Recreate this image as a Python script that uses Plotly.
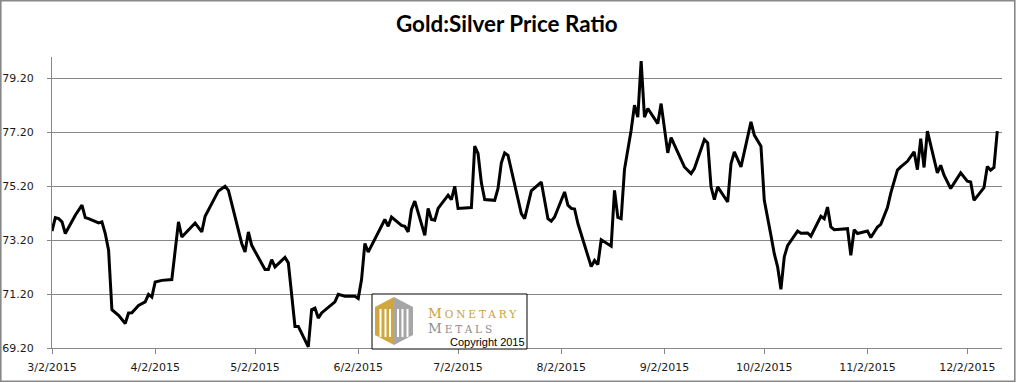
import plotly.graph_objects as go

# ---- data ----
dates = [
    "2015-03-02", "2015-03-03", "2015-03-04", "2015-03-05", "2015-03-06", "2015-03-09",
    "2015-03-11", "2015-03-12", "2015-03-13", "2015-03-16", "2015-03-17", "2015-03-18",
    "2015-03-19", "2015-03-20", "2015-03-22", "2015-03-24", "2015-03-25", "2015-03-26",
    "2015-03-28", "2015-03-29", "2015-03-30", "2015-03-31", "2015-04-01", "2015-04-02",
    "2015-04-04", "2015-04-07", "2015-04-09", "2015-04-10", "2015-04-14", "2015-04-16",
    "2015-04-17", "2015-04-21", "2015-04-22", "2015-04-23", "2015-04-24", "2015-04-27",
    "2015-04-28", "2015-04-29", "2015-04-30", "2015-05-01", "2015-05-05", "2015-05-06",
    "2015-05-07", "2015-05-08", "2015-05-11", "2015-05-12", "2015-05-14", "2015-05-15",
    "2015-05-18", "2015-05-19", "2015-05-20", "2015-05-21", "2015-05-22", "2015-05-26",
    "2015-05-27", "2015-05-29", "2015-06-01", "2015-06-02", "2015-06-03", "2015-06-04",
    "2015-06-05", "2015-06-10", "2015-06-11", "2015-06-12", "2015-06-15", "2015-06-16",
    "2015-06-17", "2015-06-18", "2015-06-19", "2015-06-22", "2015-06-23", "2015-06-24",
    "2015-06-25", "2015-06-26", "2015-06-29", "2015-06-30", "2015-07-01", "2015-07-02",
    "2015-07-06", "2015-07-07", "2015-07-08", "2015-07-09", "2015-07-10", "2015-07-13",
    "2015-07-14", "2015-07-15", "2015-07-16", "2015-07-17", "2015-07-21", "2015-07-22",
    "2015-07-24", "2015-07-27", "2015-07-29", "2015-07-30", "2015-07-31", "2015-08-03",
    "2015-08-04", "2015-08-05", "2015-08-06", "2015-08-07", "2015-08-11", "2015-08-12",
    "2015-08-13", "2015-08-14", "2015-08-17", "2015-08-18", "2015-08-19", "2015-08-20",
    "2015-08-21", "2015-08-23", "2015-08-24", "2015-08-25", "2015-08-26", "2015-08-27",
    "2015-08-28", "2015-08-31", "2015-09-01", "2015-09-03", "2015-09-04", "2015-09-08",
    "2015-09-10", "2015-09-11", "2015-09-14", "2015-09-15", "2015-09-16", "2015-09-17",
    "2015-09-18", "2015-09-21", "2015-09-22", "2015-09-23", "2015-09-25", "2015-09-28",
    "2015-09-29", "2015-10-01", "2015-10-02", "2015-10-04", "2015-10-05", "2015-10-06",
    "2015-10-07", "2015-10-08", "2015-10-09", "2015-10-12", "2015-10-13", "2015-10-15",
    "2015-10-16", "2015-10-19", "2015-10-20", "2015-10-21", "2015-10-22", "2015-10-23",
    "2015-10-27", "2015-10-28", "2015-10-29", "2015-10-30", "2015-11-02", "2015-11-03",
    "2015-11-05", "2015-11-06", "2015-11-08", "2015-11-09", "2015-11-11", "2015-11-12",
    "2015-11-14", "2015-11-16", "2015-11-17", "2015-11-18", "2015-11-19", "2015-11-20",
    "2015-11-23", "2015-11-24", "2015-11-25", "2015-11-27", "2015-11-30", "2015-12-02",
    "2015-12-03", "2015-12-04", "2015-12-07", "2015-12-08", "2015-12-09", "2015-12-10",
    "2015-12-11",
]
ratio = [
    73.54, 74.04, 74.00, 73.88, 73.45, 74.13,
    74.50, 74.04, 74.00, 73.84, 73.88, 73.45,
    72.83, 70.62, 70.41, 70.11, 70.50, 70.51,
    70.78, 70.85, 70.91, 71.19, 71.09, 71.65,
    71.71, 71.74, 73.88, 73.32, 73.84, 73.51,
    74.09, 75.03, 75.12, 75.20, 75.05, 73.57,
    73.08, 72.76, 73.51, 73.01, 72.11, 72.11,
    72.48, 72.21, 72.56, 72.36, 70.00, 70.00,
    69.24, 70.62, 70.68, 70.31, 70.50, 70.91,
    71.19, 71.12, 71.12, 71.04, 71.74, 73.08,
    72.76, 73.97, 73.72, 74.06, 73.75, 73.72,
    73.51, 74.34, 74.65, 73.38, 74.38, 73.97,
    73.94, 74.38, 74.87, 74.71, 75.20, 74.38,
    74.41, 76.69, 76.42, 75.33, 74.71, 74.68,
    75.12, 76.07, 76.44, 76.35, 74.19, 74.00,
    75.03, 75.36, 74.00, 73.91, 74.06, 74.99,
    74.50, 74.38, 74.36, 73.82, 72.22, 72.45,
    72.30, 73.22, 72.98, 75.05, 74.05, 74.00,
    75.83, 77.28, 78.21, 77.77, 79.85, 77.77,
    78.09, 77.53, 78.27, 76.44, 77.01, 75.92,
    75.67, 75.86, 76.94, 76.81, 75.18, 74.71,
    75.18, 74.62, 76.04, 76.48, 75.92, 77.59,
    77.10, 76.69, 74.68, 73.38, 72.70, 72.21,
    71.38, 72.58, 73.00, 73.54, 73.46, 73.47,
    73.35, 74.09, 74.00, 74.43, 73.69, 73.59,
    73.63, 72.64, 73.59, 73.45, 73.54, 73.30,
    73.69, 73.79, 74.41, 74.95, 75.80, 75.92,
    76.13, 76.48, 75.82, 76.97, 75.90, 77.25,
    75.70, 75.98, 75.61, 75.12, 75.70, 75.39,
    75.36, 74.68, 75.15, 75.94, 75.80, 75.90,
    77.25,
]
x_tick_dates = ["2015-03-02", "2015-04-02", "2015-05-02", "2015-06-02", "2015-07-02",
                "2015-08-02", "2015-09-02", "2015-10-02", "2015-11-02", "2015-12-02"]
x_tick_labels = ["3/2/2015", "4/2/2015", "5/2/2015", "6/2/2015", "7/2/2015",
                 "8/2/2015", "9/2/2015", "10/2/2015", "11/2/2015", "12/2/2015"]
y_tick_values = [69.2, 71.2, 73.2, 75.2, 77.2, 79.2]
y_tick_labels = ["69.20", "71.20", "73.20", "75.20", "77.20", "79.20"]

title_text = "Gold:Silver Price Ratio"

# ---- layout geometry (pixels) ----
W, H = 1016, 383
L, R, T, B = 52, 14, 57, 35
PW, PH = W - L - R, H - T - B
GRID = "#878787"


def px(x):
    return (x - L) / PW


def py(y):
    return (H - B - y) / PH


fig = go.Figure()
fig.add_trace(go.Scatter(
    x=dates, y=ratio, mode="lines",
    line=dict(color="#000000", width=3),
    hoverinfo="x+y", showlegend=False,
))

shapes = []
# outer chart border
shapes.append(dict(type="rect", xref="paper", yref="paper",
                   x0=px(0.8), x1=px(1014.8), y0=py(381.2), y1=py(0.8),
                   line=dict(color="#888888", width=1.6), fillcolor="rgba(0,0,0,0)",
                   layer="above"))

# ---- Monetary Metals logo box ----
bx0, bx1, by0, by1 = 372, 527, 294, 349
shapes.append(dict(type="rect", xref="paper", yref="paper",
                   x0=px(bx0), x1=px(bx1), y0=py(by1), y1=py(by0),
                   line=dict(color="#000000", width=1), fillcolor="#ffffff",
                   layer="above"))


def path(points):
    return "M " + " L ".join(f"{px(a):.5f},{py(b):.5f}" for a, b in points) + " Z"


cx, top, bot = 394, 297, 345
lx, rx = 375, 413
gold = "#CFA73D"
grey = "#A6A6A6"
shapes.append(dict(type="path", xref="paper", yref="paper", layer="above",
                   path=path([(cx, top), (cx, bot), (lx, bot - 10), (lx, top + 10)]),
                   fillcolor=gold, line=dict(width=0)))
shapes.append(dict(type="path", xref="paper", yref="paper", layer="above",
                   path=path([(cx, top), (rx, top + 10), (rx, bot - 10), (cx, bot)]),
                   fillcolor=grey, line=dict(width=0)))
stripes = [(379.5, 381.5), (384.5, 386.5), (389, 391), (397, 399), (401.5, 403.5), (406.5, 408.5)]
for (a, b) in stripes:
    shapes.append(dict(type="path", xref="paper", yref="paper", layer="above",
                       path=path([(a, top + 12), (b, top + 12), (b, bot - 8), (a, bot - 8)]),
                       fillcolor="#ffffff", line=dict(width=0)))

line1 = '<span style="letter-spacing:2.9px"><span style="font-size:13.5px">M</span>ONETARY</span>'
line2 = '<span style="letter-spacing:2.9px"><span style="font-size:13.5px">M</span>ETALS</span>'

annotations = [
    dict(text="<b>" + title_text + "</b>", xref="paper", yref="paper",
         x=px(507), y=py(24), showarrow=False, xanchor="center", yanchor="middle",
         font=dict(family="Lato, Open Sans, sans-serif", size=22.4, color="#000000")),
    dict(text=line1, xref="paper", yref="paper", align="left",
         x=px(427), y=py(312.5), showarrow=False, xanchor="left", yanchor="middle",
         borderpad=0,
         font=dict(family="DejaVu Serif, Liberation Serif, serif", size=10.5, color="#C9A23A")),
    dict(text=line2, xref="paper", yref="paper", align="left",
         x=px(427), y=py(327.5), showarrow=False, xanchor="left", yanchor="middle",
         borderpad=0,
         font=dict(family="DejaVu Serif, Liberation Serif, serif", size=10.5, color="#8E8E8E")),
    dict(text="Copyright 2015", xref="paper", yref="paper",
         x=px(487), y=py(341.5), showarrow=False, xanchor="center", yanchor="middle",
         borderpad=0,
         font=dict(family="Liberation Sans, Arial, sans-serif", size=11, color="#000000")),
]

fig.update_layout(
    width=W, height=H,
    margin=dict(l=L, r=R, t=T, b=B, pad=0, autoexpand=False),
    paper_bgcolor="#ffffff", plot_bgcolor="#ffffff",
    shapes=shapes, annotations=annotations,
    showlegend=False,
    font=dict(family="DejaVu Sans, Verdana, sans-serif", size=11, color="#1a1a1a"),
)
fig.update_xaxes(
    type="date", automargin=False,
    range=["2015-03-02", "2015-12-12 10:00"],
    tickmode="array", tickvals=x_tick_dates, ticktext=x_tick_labels,
    showgrid=False, zeroline=False,
    showline=True, linecolor=GRID, linewidth=1,
    ticks="outside", ticklen=5, tickcolor=GRID, tickwidth=1,
    ticklabelstandoff=4,
    tickfont=dict(family="DejaVu Sans, Verdana, sans-serif", size=11, color="#1a1a1a"),
)
fig.update_yaxes(
    automargin=False,
    range=[69.2, 80.0],
    tickmode="array", tickvals=y_tick_values, ticktext=y_tick_labels,
    showgrid=True, gridcolor=GRID, gridwidth=1, zeroline=False,
    showline=True, linecolor=GRID, linewidth=1,
    ticks="outside", ticklen=4, tickcolor=GRID, tickwidth=1,
    ticklabelstandoff=11,
    tickfont=dict(family="DejaVu Sans, Verdana, sans-serif", size=11, color="#1a1a1a"),
)

fig.write_html("out.html", config={"displayModeBar": False})

# remove the default page margin so the figure sits at the window's top-left corner
with open("out.html", "r", encoding="utf-8") as f:
    html = f.read()
html = html.replace("<head>", "<head><style>html,body{margin:0;padding:0;overflow:hidden;}</style>", 1)
with open("out.html", "w", encoding="utf-8") as f:
    f.write(html)
